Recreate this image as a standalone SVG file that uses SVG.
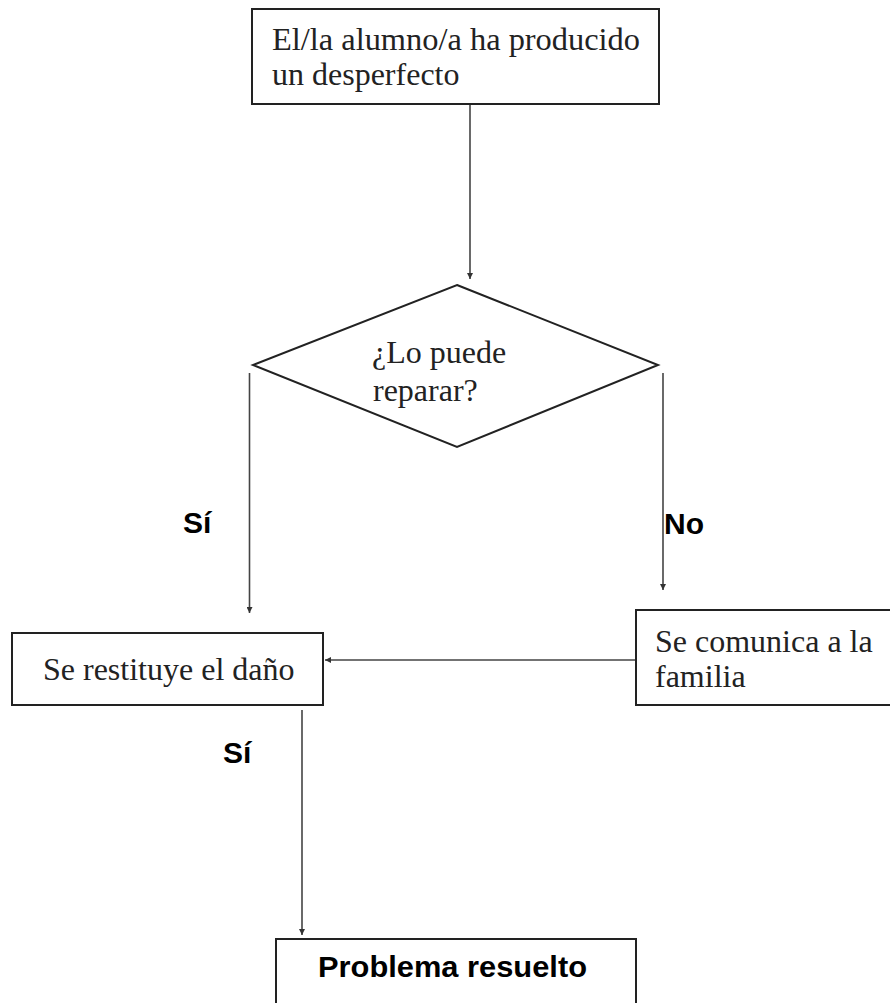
<svg xmlns="http://www.w3.org/2000/svg" width="890" height="1003" viewBox="0 0 890 1003">
<style>
.box{fill:#fff;stroke:#222;stroke-width:2}
.t{font-family:"Liberation Serif","Times New Roman",serif;font-size:32px;fill:#222}
.b{font-family:"Liberation Sans",Arial,sans-serif;font-size:30px;font-weight:bold;fill:#000}
.c{stroke:#444;stroke-width:1.6;fill:none}
</style>
<defs>
<marker id="ah" viewBox="0 0 10 10" refX="10" refY="5" markerWidth="9" markerHeight="6" markerUnits="userSpaceOnUse" orient="auto">
<path d="M0,0 L10,5 L0,10 z" fill="#333"/>
</marker>
</defs>
<rect width="890" height="1003" fill="#fff"/>
<g id="connectors">
<line class="c" x1="470" y1="105" x2="470" y2="279" marker-end="url(#ah)"/>
<line class="c" x1="249.5" y1="373" x2="249.5" y2="613" marker-end="url(#ah)"/>
<line class="c" x1="663" y1="373" x2="663" y2="590" marker-end="url(#ah)"/>
<line class="c" x1="636" y1="660" x2="325" y2="660" marker-end="url(#ah)"/>
<line class="c" x1="302" y1="710" x2="302" y2="935" marker-end="url(#ah)"/>
<text class="b" x="183" y="533">Sí</text>
<text class="b" x="664" y="534">No</text>
<text class="b" x="223" y="763">Sí</text>
</g>
<g id="start">
<rect class="box" x="252" y="9" width="407" height="95"/>
<text class="t" x="272" y="50" textLength="368" lengthAdjust="spacingAndGlyphs">El/la alumno/a ha producido</text>
<text class="t" x="272" y="85">un desperfecto</text>
</g>
<g id="decision">
<polygon class="box" points="457,285 658,365 457,447 253,365"/>
<text class="t" x="372" y="363">¿Lo puede</text>
<text class="t" x="373" y="401">reparar?</text>
</g>
<g id="restituye">
<rect class="box" x="12" y="633" width="311" height="72"/>
<text class="t" x="43" y="680">Se restituye el daño</text>
</g>
<g id="comunica">
<rect class="box" x="636" y="610" width="270" height="95"/>
<text class="t" x="655" y="652">Se comunica a la</text>
<text class="t" x="655" y="687">familia</text>
</g>
<g id="resuelto">
<rect class="box" x="276" y="939" width="360" height="80"/>
<text class="b" x="318" y="977" textLength="269" lengthAdjust="spacingAndGlyphs">Problema resuelto</text>
</g>
</svg>
